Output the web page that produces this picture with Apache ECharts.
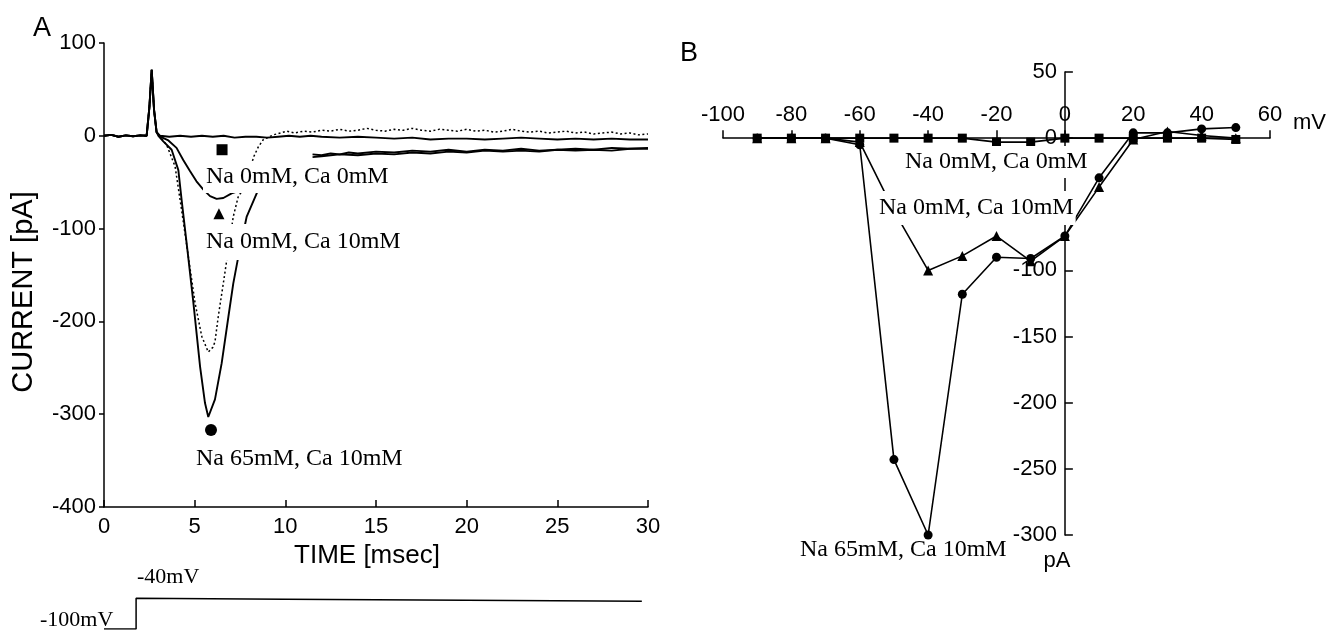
<!DOCTYPE html>
<html><head><meta charset="utf-8">
<script src="https://cdn.jsdelivr.net/npm/echarts@6/dist/echarts.min.js"></script>
<style>html,body{margin:0;padding:0;background:#fff}#c{width:1331px;height:630px}</style>
</head><body><div id="c"></div>
<script>
// ---------- Panel A : current traces (time ms, current pA) ----------
const baselineSpike = [[0,0],[0.4,1],[0.8,-1],[1.2,0.5],[1.6,-0.5],[2.0,0.5],[2.35,0],[2.5,30],[2.63,71],[2.76,28],[2.9,4]];
const tailNa0Ca0 = [[3.1,0],[3.6,-1],[4.2,0],[4.8,-1],[5.4,0],[6.0,-1],[6.6,0],[7.2,-2],[7.8,-1],[8.4,-1],[9.0,-2],[9.6,-1],[10.2,0],[10.8,-1],[11.4,0],[12,-1],[13,-2],[14,-1],[15,-2],[16,-3],[17,-2],[18,-4],[19,-3],[20,-3],[21,-4],[22,-3],[23,-2],[24,-3],[25,-4],[26,-3],[27,-4],[28,-3],[29,-4],[30,-4]];
const tailNa0Ca10 = [[3.1,-1],[3.55,-5],[4.0,-13],[4.37,-26],[4.74,-38],[5.1,-49],[5.48,-58],[5.85,-65],[6.21,-68],[6.58,-67],[7.04,-62],[7.5,-59],[7.55,'-'],[11.5,-20],[12,-21],[12.5,-19],[13,-20],[13.5,-18],[14,-19],[15,-17],[16,-18],[17,-16],[18,-17],[19,-15],[20,-17],[21,-15],[22,-16],[23,-14],[24,-16],[25,-15],[26,-14],[27,-15],[28,-13],[29,-14],[30,-13]];
const tailNa65Ca10 = [[3.0,0],[3.27,-6],[3.73,-15],[4.1,-37],[4.28,-69],[4.6,-123],[4.93,-180],[5.3,-249],[5.57,-288],[5.75,-303],[6.12,-284],[6.49,-245],[6.86,-195],[7.13,-159],[7.41,-130],[7.87,-87],[8.51,-58],[8.55,'-'],[11.5,-23],[12,-22],[12.5,-21],[13,-20],[14,-21],[15,-19],[16,-20],[17,-18],[18,-19],[19,-17],[20,-18],[21,-16],[22,-17],[23,-16],[24,-17],[25,-15],[26,-16],[27,-15],[28,-16],[29,-14],[30,-14]];
const tailDotted = [[3.1,-1],[3.46,-10],[3.92,-33],[4.28,-80],[4.65,-130],[5.02,-180],[5.39,-216],[5.75,-233],[6.0,-228],[6.12,-222],[6.3,-195],[6.58,-159],[6.77,-134],[7.13,-87],[7.41,-65],[7.68,-58],[8.27,-22],[8.51,-12],[8.79,-4],[9.34,1],[10.08,5],[10.5,3],[11,5],[11.5,4],[12,6],[12.5,5],[13,7],[13.5,5],[14,6],[14.5,8],[15,6],[15.5,5],[16,7],[16.5,6],[17,8],[17.5,6],[18,5],[18.5,7],[19,6],[19.5,5],[20,7],[20.5,5],[21,6],[21.5,4],[22,5],[22.5,7],[23,5],[23.5,4],[24,5],[24.5,3],[25,4],[25.5,5],[26,3],[26.5,4],[27,2],[27.5,3],[28,4],[28.5,2],[29,3],[29.5,1],[30,2]];
// annotation symbols of panel A (data coords)
const markSquareA = [[6.51,-15]];
const markTriangleA = [[6.34,-84]];
const markCircleA = [[5.9,-317]];
// command voltage step (time ms, mV)
const stepVoltage = [[0,-100],[1.77,-100],[1.77,-40],[10,-42],[20,-44],[29.66,-46]];

// ---------- Panel B : I-V relation ----------
const voltages = [-90,-80,-70,-60,-50,-40,-30,-20,-10,0,10,20,30,40,50];
const ivNa0Ca0 = [0,0,0,0,0,0,0,-3,-3,0,0,0,0,0,-1];
const ivNa0Ca10 = [0,0,0,-3,-55,-100,-89,-74,-93,-74,-37,-1,5,2,0];
const ivNa65Ca10 = [0,0,0,-5,-243,-300,-118,-90,-91,-74,-30,4,4,7,8];

const labelsA = ['Na 0mM, Ca 0mM','Na 0mM, Ca 10mM','Na 65mM, Ca 10mM'];

const SANS = 'Liberation Sans, Arial, Helvetica, sans-serif';
const SERIF = 'Liberation Serif, Times New Roman, serif';
const BLACK = '#000';

function pairs(xs, ys){ return xs.map((x,i)=>[x, ys[i]]); }

// grid geometry of panel B; axes cross at (0 mV, 0 pA)
const gridB = {left:723, top:72, width:547, height:463};
const xMinB = -100, xMaxB = 60, yMinB = -300, yMaxB = 50;
const yAxisOffsetB = -gridB.width * (0 - xMinB) / (xMaxB - xMinB);
const xAxisOffsetB = -gridB.height * (yMaxB - 0) / (yMaxB - yMinB);

const axisLineStyle = {color:BLACK, width:1.5};
const tickLabel = {color:BLACK, fontSize:22, fontFamily:SANS};

const chart = echarts.init(document.getElementById('c'), null, {renderer:'canvas'});
const solidA = {type:'line', xAxisIndex:0, yAxisIndex:0, showSymbol:false, symbol:'none', connectNulls:false,
  lineStyle:{color:BLACK, width:1.9}, z:3};
const ivLine = {type:'line', xAxisIndex:1, yAxisIndex:1, symbolSize:9, showAllSymbol:true,
  lineStyle:{color:BLACK, width:1.6}, itemStyle:{color:BLACK, opacity:1}, z:3};
const markA = {type:'scatter', xAxisIndex:0, yAxisIndex:0, itemStyle:{color:BLACK, opacity:1}, z:4};

chart.setOption({
  animation:false,
  backgroundColor:'#fff',
  grid:[
    {left:104, top:43, width:544, height:464},
    gridB,
    {left:104, top:588, width:544, height:41}
  ],
  xAxis:[
    {gridIndex:0, type:'value', min:0, max:30, interval:5,
     axisLine:{onZero:false, lineStyle:axisLineStyle},
     axisTick:{inside:true, length:7, lineStyle:axisLineStyle},
     axisLabel:Object.assign({margin:9}, tickLabel), splitLine:{show:false},
     name:'TIME [msec]', nameLocation:'middle', nameGap:36,
     nameTextStyle:{color:BLACK, fontSize:26, fontFamily:SANS, padding:[0,18,0,0]}},
    {gridIndex:1, type:'value', position:'top', offset:xAxisOffsetB, min:xMinB, max:xMaxB, interval:20,
     axisLine:{onZero:false, lineStyle:axisLineStyle},
     axisTick:{inside:false, length:8, lineStyle:axisLineStyle},
     axisLabel:Object.assign({margin:12}, tickLabel), splitLine:{show:false}},
    {gridIndex:2, type:'value', min:0, max:30, show:false}
  ],
  yAxis:[
    {gridIndex:0, type:'value', min:-400, max:100, interval:100,
     axisLine:{show:true, onZero:false, lineStyle:axisLineStyle},
     axisTick:{show:true, inside:false, length:5, lineStyle:axisLineStyle},
     axisLabel:Object.assign({margin:8}, tickLabel), splitLine:{show:false},
     name:'CURRENT [pA]', nameLocation:'middle', nameGap:66,
     nameTextStyle:{color:BLACK, fontSize:29, fontFamily:SANS, padding:[0,34,0,0]}},
    {gridIndex:1, type:'value', position:'left', offset:yAxisOffsetB, min:yMinB, max:yMaxB, interval:50,
     axisLine:{show:true, onZero:false, lineStyle:axisLineStyle},
     axisTick:{show:true, inside:true, length:8, lineStyle:axisLineStyle},
     axisLabel:Object.assign({margin:8}, tickLabel), splitLine:{show:false}},
    {gridIndex:2, type:'value', min:-100, max:-20, show:false}
  ],
  series:[
    Object.assign({}, solidA, {name:labelsA[0], data:baselineSpike.concat(tailNa0Ca0)}),
    Object.assign({}, solidA, {name:labelsA[1], data:baselineSpike.concat(tailNa0Ca10)}),
    Object.assign({}, solidA, {name:labelsA[2], data:baselineSpike.concat(tailNa65Ca10)}),
    Object.assign({}, solidA, {name:'dotted trace', data:baselineSpike.concat(tailDotted),
      lineStyle:{color:BLACK, width:1.5, type:[2,2.5]}}),
    Object.assign({}, markA, {symbol:'rect', symbolSize:11, data:markSquareA}),
    Object.assign({}, markA, {symbol:'triangle', symbolSize:11, data:markTriangleA}),
    Object.assign({}, markA, {symbol:'circle', symbolSize:12, data:markCircleA}),
    {type:'line', xAxisIndex:2, yAxisIndex:2, showSymbol:false, symbol:'none', data:stepVoltage,
      lineStyle:{color:BLACK, width:1.5}},
    Object.assign({}, ivLine, {name:'Na 65mM, Ca 10mM (IV)', symbol:'circle', data:pairs(voltages, ivNa65Ca10)}),
    Object.assign({}, ivLine, {name:'Na 0mM, Ca 10mM (IV)', symbol:'triangle', symbolSize:10, data:pairs(voltages, ivNa0Ca10)}),
    Object.assign({}, ivLine, {name:'Na 0mM, Ca 0mM (IV)', symbol:'rect', symbolSize:9, data:pairs(voltages, ivNa0Ca0)})
  ],
  graphic:[
    {type:'text', x:42, y:29, z:100, style:{text:'A', font:'27px '+SANS, fill:BLACK, align:'center', verticalAlign:'middle'}},
    {type:'text', x:689, y:54, z:100, style:{text:'B', font:'27px '+SANS, fill:BLACK, align:'center', verticalAlign:'middle'}},
    {type:'text', x:203, y:177, z:100, style:{text:labelsA[0], font:'24px '+SERIF, fill:BLACK, align:'left', verticalAlign:'middle', backgroundColor:'#fff', padding:[4,3]}},
    {type:'text', x:203, y:242, z:100, style:{text:labelsA[1], font:'24px '+SERIF, fill:BLACK, align:'left', verticalAlign:'middle', backgroundColor:'#fff', padding:[6,3]}},
    {type:'text', x:193, y:459, z:100, style:{text:labelsA[2], font:'24px '+SERIF, fill:BLACK, align:'left', verticalAlign:'middle', backgroundColor:'#fff', padding:[2,3]}},
    {type:'text', x:903, y:162, z:100, style:{text:labelsA[0], font:'24px '+SERIF, fill:BLACK, align:'left', verticalAlign:'middle', backgroundColor:'#fff', padding:[4,2]}},
    {type:'text', x:877, y:208, z:100, style:{text:labelsA[1], font:'24px '+SERIF, fill:BLACK, align:'left', verticalAlign:'middle', backgroundColor:'#fff', padding:[5,2]}},
    {type:'text', x:800, y:550, z:100, style:{text:labelsA[2], font:'24px '+SERIF, fill:BLACK, align:'left', verticalAlign:'middle'}},
    {type:'text', x:1293, y:123, z:100, style:{text:'mV', font:'22px '+SANS, fill:BLACK, align:'left', verticalAlign:'middle'}},
    {type:'text', x:1057, y:561, z:100, style:{text:'pA', font:'22px '+SANS, fill:BLACK, align:'center', verticalAlign:'middle'}},
    {type:'text', x:137, y:577, z:100, style:{text:'-40mV', font:'22px '+SERIF, fill:BLACK, align:'left', verticalAlign:'middle'}},
    {type:'text', x:40, y:620, z:100, style:{text:'-100mV', font:'22px '+SERIF, fill:BLACK, align:'left', verticalAlign:'middle'}}
  ]
});
</script></body></html>
